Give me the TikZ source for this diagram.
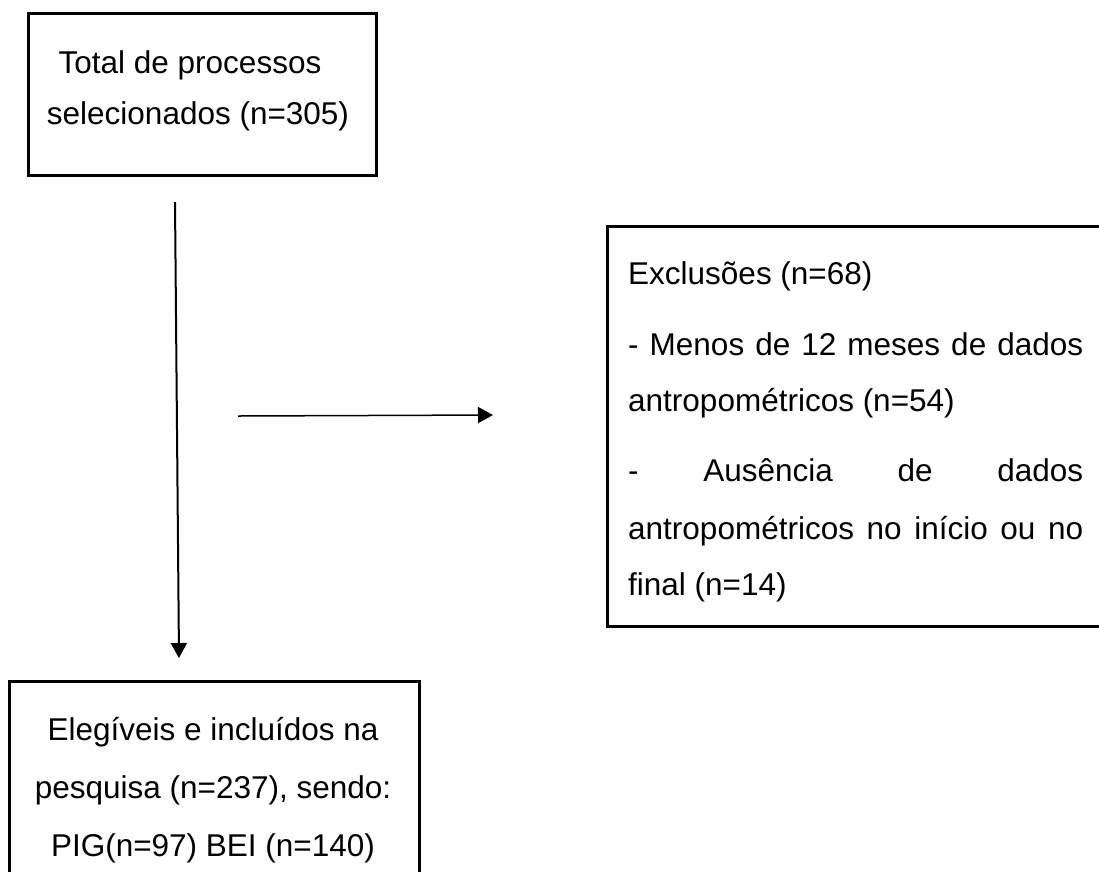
\documentclass[tikz,border=0pt]{standalone}
\usepackage{fontspec}
\setmainfont{Liberation Sans}
\usetikzlibrary{arrows.meta}
\begin{document}
\begin{tikzpicture}[x=1pt,y=-1pt,
  box/.style={draw, line width=2.5pt, inner sep=0pt, anchor=north west},
  txt/.style={font=\fontsize{31.5}{38}\selectfont, inner sep=0pt, anchor=base},
  txtl/.style={txt, anchor=base west},
  arr/.style={-{Triangle[length=15pt,width=16pt]}}]
\useasboundingbox (0,0) rectangle (1099,871);
\fill[white] (0,0) rectangle (1099,871);
% boxes
\node[box, minimum width=348pt, minimum height=162pt] (b1) at (27,12) {};
\node[box, minimum width=520pt, minimum height=400pt] (b2) at (606,225) {};
\node[box, minimum width=410pt, minimum height=260pt] (b3) at (8,680) {};
% texts
\node[txt] (t1a) at (190,73) {Total de processos};
\node[txt] (t1b) at (198,124) {selecionados (n=305)};
\node[txtl] (t2a) at (628,284) {Exclusões (n=68)};
\node[txtl] (t2b) at (628,355) {\makebox[455pt][s]{- Menos de 12 meses de dados}};
\node[txtl] (t2c) at (628,411) {antropométricos (n=54)};
\node[txtl] (t2d) at (628,481) {\makebox[455pt][s]{- Ausência de dados}};
\node[txtl] (t2e) at (628,539) {\makebox[455pt][s]{antropométricos no início ou no}};
\node[txtl] (t2f) at (628,595) {final (n=14)};
\node[txt] (t3a) at (213,740) {Elegíveis e incluídos na};
\node[txt] (t3b) at (213,798) {pesquisa (n=237), sendo:};
\node[txt] (t3c) at (213,856) {PIG(n=97) BEI (n=140)};
% connectors
\coordinate (a1) at (175,202);
\coordinate (a2) at (179,658);
\draw[arr, line width=2pt] (a1) -- (a2);
\coordinate (h1) at (238,416);
\coordinate (h2) at (493,415);
\draw[arr, line width=1.5pt] (h1) -- (h2);
\end{tikzpicture}
\end{document}
